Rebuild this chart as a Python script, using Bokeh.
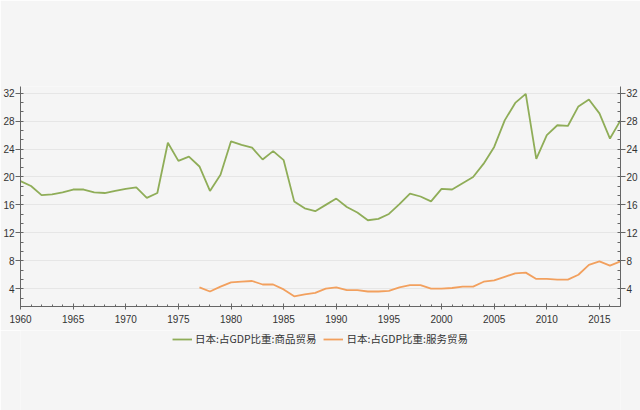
from bokeh.plotting import figure
from bokeh.layouts import column
from bokeh.models import (Range1d, LinearAxis, SingleIntervalTicker, Legend, LegendItem)
from bokeh.embed import file_html
from bokeh.resources import INLINE

years_goods = list(range(1960, 2018))
goods = [19.4, 18.7, 17.4, 17.5, 17.8, 18.2, 18.2, 17.8, 17.7, 18.0,
         18.3, 18.5, 17.0, 17.7, 24.9, 22.3, 22.9, 21.5, 18.0, 20.3,
         25.1, 24.6, 24.2, 22.5, 23.7, 22.4, 16.5, 15.5, 15.1, 16.0,
         16.9, 15.7, 14.9, 13.8, 14.0, 14.7, 16.1, 17.6, 17.2, 16.5,
         18.3, 18.2, 19.1, 20.0, 21.9, 24.3, 28.1, 30.6, 31.9, 22.6,
         26.0, 27.4, 27.3, 30.1, 31.1, 29.1, 25.5, 28.1]

years_services = list(range(1977, 2018))
services = [4.2, 3.6, 4.3, 4.9, 5.0, 5.1, 4.6, 4.6, 3.9, 2.9,
            3.2, 3.4, 4.0, 4.2, 3.8, 3.8, 3.6, 3.6, 3.7, 4.2,
            4.5, 4.5, 4.0, 4.0, 4.1, 4.3, 4.3, 5.0, 5.2, 5.7,
            6.2, 6.3, 5.4, 5.4, 5.3, 5.3, 6.0, 7.4, 7.9, 7.3, 7.9]

labels = ["日本:占GDP比重:商品贸易", "日本:占GDP比重:服务贸易"]

BG = "#f5f5f5"
AX = "#666666"
TXT = "#333333"
GREEN = "#8fad58"
ORANGE = "#f2a05e"

p = figure(width=640, height=330, output_backend="svg",
           toolbar_location=None, x_range=Range1d(1960, 2017),
           y_range=Range1d(1.45, 32.95), y_axis_location=None,
           min_border_top=86, min_border_left=17, min_border_right=19,
           min_border_bottom=24)
p.background_fill_color = BG
p.border_fill_color = BG
p.outline_line_color = None

p.xgrid.grid_line_color = None
p.ygrid.grid_line_color = "#e6e6e6"
p.ygrid.ticker = SingleIntervalTicker(interval=4, num_minor_ticks=3)

# x axis
xa = p.xaxis[0]
xa.ticker = SingleIntervalTicker(interval=5, num_minor_ticks=5)
xa.axis_line_color = AX
xa.major_tick_line_color = AX
xa.minor_tick_line_color = AX
xa.major_tick_in = 3
xa.major_tick_out = 3
xa.minor_tick_in = 2
xa.minor_tick_out = 0
xa.major_label_standoff = 5
xa.major_label_text_font = "Liberation Sans"
xa.major_label_text_font_size = "10px"
xa.major_label_text_color = TXT

def yaxis():
    a = LinearAxis(ticker=SingleIntervalTicker(interval=4, num_minor_ticks=3))
    a.axis_line_color = AX
    a.major_tick_line_color = AX
    a.minor_tick_line_color = AX
    a.major_tick_in = 0
    a.major_tick_out = 5
    a.minor_tick_in = 3
    a.minor_tick_out = 0
    a.major_label_standoff = 1
    a.major_label_text_font = "Liberation Sans"
    a.major_label_text_font_size = "10px"
    a.major_label_text_color = TXT
    return a

p.add_layout(yaxis(), "left")
p.add_layout(yaxis(), "right")

r1 = p.line(years_goods, goods, line_color=GREEN, line_width=1.8)
r2 = p.line(years_services, services, line_color=ORANGE, line_width=1.8)

# legend strip below the chart (same series, kept outside its view range)
q = figure(width=640, height=80, output_backend="svg", toolbar_location=None,
           x_range=Range1d(0, 1), y_range=Range1d(0, 1),
           min_border=0, min_border_left=0, min_border_right=0,
           min_border_top=0, min_border_bottom=0)
q.axis.visible = False
q.grid.visible = False
q.outline_line_color = None
q.background_fill_color = BG
q.border_fill_color = BG
l1 = q.line(years_goods, goods, line_color=GREEN, line_width=1.8)
l2 = q.line(years_services, services, line_color=ORANGE, line_width=1.8)

legend = Legend(items=[LegendItem(label=labels[0], renderers=[l1]),
                       LegendItem(label=labels[1], renderers=[l2])],
                orientation="horizontal", location="top_center")
legend.background_fill_alpha = 0
legend.border_line_color = None
legend.label_text_font = "Noto Sans CJK SC"
legend.label_text_font_size = "10.5px"
legend.label_text_color = TXT
legend.glyph_width = 20
legend.glyph_height = 14
legend.label_height = 14
legend.label_standoff = 3
legend.spacing = 7
legend.padding = 0
legend.margin = 1
q.add_layout(legend, "center")

layout = column(p, q, spacing=0)
open("out.html", "w").write(file_html(layout, INLINE))
